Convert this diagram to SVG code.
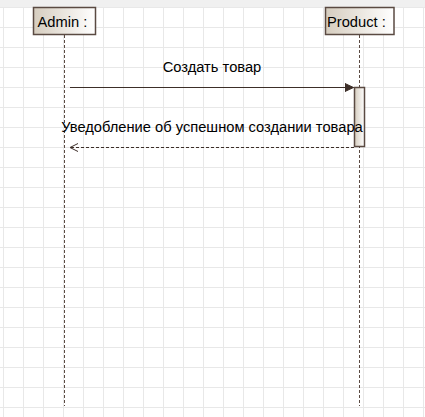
<svg xmlns="http://www.w3.org/2000/svg" width="425" height="417" viewBox="0 0 425 417">
  <defs>
    <pattern id="grid" x="3" y="7" width="20" height="20" patternUnits="userSpaceOnUse">
      <path d="M0.5 0 V20 M0 0.5 H20" stroke="#e8e8e8" stroke-width="1" fill="none"/>
    </pattern>
    <linearGradient id="boxGrad" x1="0" y1="0" x2="1" y2="0">
      <stop offset="0" stop-color="#d6cdbf"/>
      <stop offset="1" stop-color="#ffffff"/>
    </linearGradient>
    <marker id="filled" markerWidth="10" markerHeight="10" refX="9" refY="4.5" orient="auto" markerUnits="userSpaceOnUse">
      <path d="M0.5 0.5 L9 4.5 L0.5 8.5 Z" fill="#3c2e28" stroke="#3c2e28" stroke-width="1"/>
    </marker>
    <marker id="open" markerWidth="10" markerHeight="10" refX="9" refY="4.5" orient="auto" markerUnits="userSpaceOnUse">
      <path d="M1 0.5 L9 4.5 L1 8.5" fill="none" stroke="#3c2e28" stroke-width="1"/>
    </marker>
  </defs>
  <style>
    .box { fill: url(#boxGrad); stroke: #5a4a42; stroke-width: 1.5; }
    .lifeline { stroke: #5a4a42; stroke-width: 1; stroke-dasharray: 3 2; fill: none; }
    .msg { stroke: #3c2e28; stroke-width: 1.2; fill: none; }
    .ret { stroke: #3c2e28; stroke-width: 1; stroke-dasharray: 3 2; fill: none; }
    .label { font-family: "Liberation Sans", Arial, sans-serif; font-size: 14.7px; fill: #000000; }
  </style>
  <rect x="0" y="0" width="425" height="417" fill="#ffffff"/>
  <rect x="0" y="7" width="425" height="410" fill="url(#grid)"/>
  <rect x="0" y="0" width="425" height="7" fill="#f0f0f0"/>

  <g id="lifelines">
    <line class="lifeline" x1="64.5" y1="35" x2="64.5" y2="406"/>
    <line class="lifeline" x1="359.5" y1="35" x2="359.5" y2="406"/>
  </g>

  <g id="activation">
    <rect class="box" x="354.5" y="87.5" width="10" height="59" stroke-width="1"/>
  </g>

  <g id="connectors">
    <line class="msg" x1="70" y1="87.5" x2="353.5" y2="87.5" marker-end="url(#filled)"/>
    <line class="ret" x1="354" y1="147.5" x2="70" y2="147.5" marker-end="url(#open)"/>
    <text class="label" x="212" y="72" text-anchor="middle">Создать товар</text>
    <text class="label" x="212" y="132" text-anchor="middle">Уведобление об успешном создании товара</text>
  </g>

  <g id="admin">
    <rect class="box" x="33.5" y="7.5" width="62" height="27"/>
    <text class="label" x="37.5" y="26.5">Admin :</text>
  </g>

  <g id="product">
    <rect class="box" x="325.5" y="7.5" width="68.5" height="27"/>
    <text class="label" x="327" y="26.5">Product :</text>
  </g>
</svg>
